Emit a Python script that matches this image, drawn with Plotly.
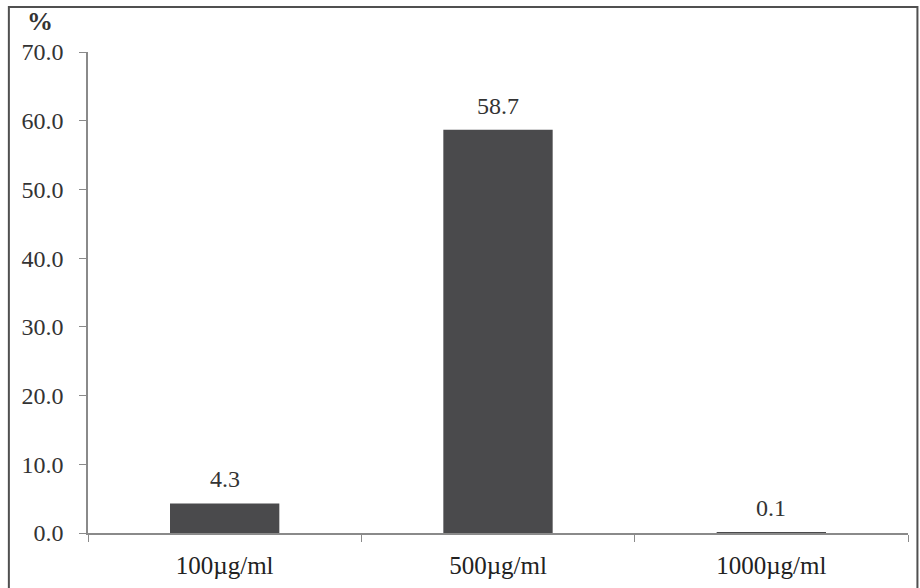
import plotly.graph_objects as go

# Concentration groups and measured percentages
categories = ["100µg/ml", "500µg/ml", "1000µg/ml"]
values = [4.3, 58.7, 0.1]
y_ticks = [0, 10, 20, 30, 40, 50, 60, 70]
y_tick_labels = ["0.0", "10.0", "20.0", "30.0", "40.0", "50.0", "60.0", "70.0"]

FONT = "Liberation Serif"
TEXT = "#333333"
AXIS = "#8a8a8a"

fig = go.Figure(
    go.Bar(
        x=categories,
        y=values,
        marker=dict(color="#4a4a4c", line=dict(width=0)),
        width=0.4,
        hoverinfo="skip",
    )
)

# Value labels above each bar
for c, v in zip(categories, values):
    fig.add_annotation(
        x=c, y=v, text=f"{v:.1f}", showarrow=False,
        yanchor="bottom", yshift=9,
        font=dict(family=FONT, size=24, color=TEXT),
    )

# Unit label above the y axis
fig.add_annotation(
    xref="paper", yref="paper", x=-0.058, y=1.03, text="<b>%</b>",
    showarrow=False, xanchor="center", yanchor="bottom",
    font=dict(family=FONT, size=26, color=TEXT),
)

# Frame around the whole chart
fig.add_shape(
    type="rect", xref="paper", yref="paper",
    x0=-0.0965, x1=1.0115, y0=-0.2, y1=1.0935,
    line=dict(color="#505050", width=2), fillcolor="rgba(0,0,0,0)",
)

fig.update_layout(
    width=920, height=588,
    margin=dict(l=88, r=12, t=52, b=55),
    paper_bgcolor="white", plot_bgcolor="white",
    showlegend=False,
    font=dict(family=FONT, size=24, color=TEXT),
    xaxis=dict(
        type="category", automargin=False,
        showline=True, linecolor=AXIS, linewidth=1.5,
        ticks="outside", tickson="boundaries", ticklen=7, tickcolor=AXIS,
        showgrid=False, zeroline=False,
        tickfont=dict(family=FONT, size=25, color="#222222"),
        ticklabelstandoff=9,
    ),
    yaxis=dict(
        range=[0, 70], tickvals=y_ticks, ticktext=y_tick_labels,
        automargin=False,
        showline=True, linecolor=AXIS, linewidth=1.5,
        ticks="outside", ticklen=7, tickcolor=AXIS,
        showgrid=False, zeroline=False,
        tickfont=dict(family=FONT, size=24, color=TEXT),
        ticklabelstandoff=11,
    ),
)

fig.write_html("out.html")
